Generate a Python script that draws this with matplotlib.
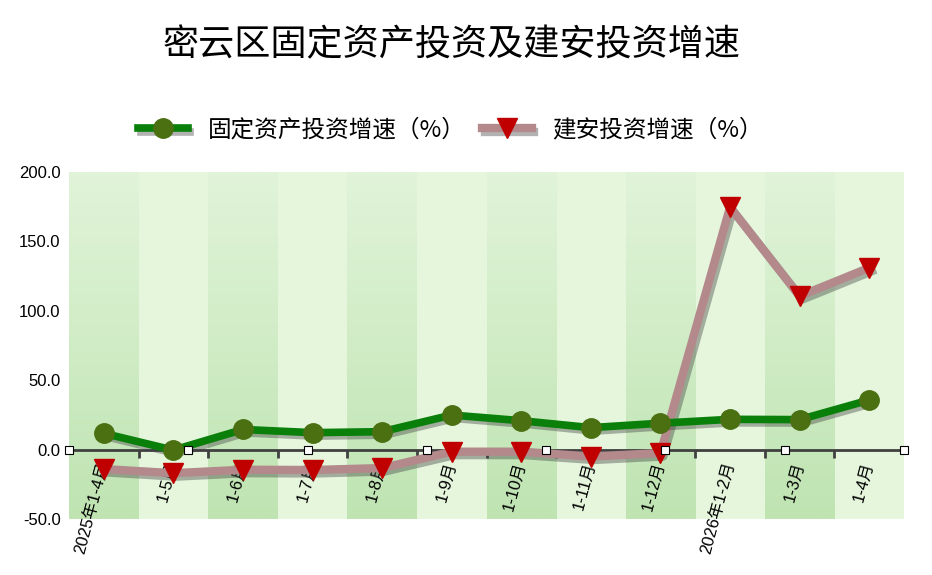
import numpy as np
import matplotlib
matplotlib.use("Agg")
import matplotlib.pyplot as plt
import matplotlib.patheffects as pe

plt.rcParams['font.family'] = ['Liberation Sans', 'Noto Sans CJK SC', 'DejaVu Sans']

# Data
categories = ['2025年1-4月', '1-5月', '1-6月', '1-7月', '1-8月', '1-9月', '1-10月',
              '1-11月', '1-12月', '2026年1-2月', '1-3月', '1-4月']
fixed_invest_growth = [11.7, -0.4, 14.5, 12.2, 12.9, 24.9, 20.8, 15.8, 19.0, 21.8, 21.6, 35.7]
construct_invest_growth = [-14.0, -17.0, -14.5, -14.7, -13.3, -1.5, -1.5, -5.0, -2.5, 174.7, 110.6, 131.0]
name_fixed = '固定资产投资增速（%）'
name_construct = '建安投资增速（%）'
title = '密云区固定资产投资及建安投资增速'
y_min, y_max = -50, 200
y_ticks = [-50, 0, 50, 100, 150, 200]

n = len(categories)
x = np.arange(n)

fig = plt.figure(figsize=(9.32, 5.75), dpi=100)
ax = fig.add_axes([0.074, 0.0974, 0.896, 0.6035])
ax.set_facecolor('#e5f6dd')
ax.set_axisbelow(True)

# Alternating background bands (dark ones with vertical gradient)
grad = np.linspace(0, 1, 100).reshape(-1, 1)
c_top = np.array([225, 244, 217]) / 255.0
c_bot = np.array([191, 228, 178]) / 255.0
grad_img = c_bot[None, None, :] * (1 - grad[:, :, None]) + c_top[None, None, :] * grad[:, :, None]
for i in range(0, n, 2):
    ax.imshow(grad_img, extent=(i - 0.5, i + 0.5, y_min, y_max), origin='lower',
              aspect='auto', zorder=0, interpolation='bilinear')
ax.set_xlim(-0.5, n - 0.5)
ax.set_ylim(y_min, y_max)

# Axes styling
for s in ['top', 'right', 'left']:
    ax.spines[s].set_visible(False)
ax.spines['bottom'].set_position(('data', 0))
ax.spines['bottom'].set_color('#404040')
ax.spines['bottom'].set_linewidth(2)
ax.set_yticks(y_ticks)
ax.set_yticklabels(['%.1f' % v for v in y_ticks], fontsize=12)
ax.tick_params(axis='y', length=0, pad=6)

ax.set_xticks(x)
ax.set_xticklabels(categories, rotation=75, ha='right', va='center',
                   rotation_mode='anchor', fontsize=12)
ax.tick_params(axis='x', which='major', length=0, pad=9)
ax.set_xticks(np.arange(0.5, n - 1, 1), minor=True)
ax.tick_params(axis='x', which='minor', length=6, width=2, color='#404040', direction='out')

# decorative markers on the zero line
ax.plot(np.linspace(-0.5, n - 0.5, 8), np.zeros(8), linestyle='none', marker='s',
        ms=5.5, mfc='white', mec='black', mew=0.8, zorder=6, clip_on=False)

shadow = [pe.SimpleLineShadow(offset=(2, -2.5), shadow_color='#404040', alpha=0.4), pe.Normal()]

l1, = ax.plot(x, fixed_invest_growth, color='#0a800a', lw=5.5, zorder=4, path_effects=shadow)
m1, = ax.plot(x, fixed_invest_growth, linestyle='none', marker='o', ms=14,
              mfc='#4a7012', mec='#4a7012', zorder=5)
l2, = ax.plot(x, construct_invest_growth, color='#b3898c', lw=6, zorder=3, path_effects=shadow)
m2, = ax.plot(x, construct_invest_growth, linestyle='none', marker='v', ms=14,
              mfc='#c00000', mec='#c00000', zorder=3.5)

fig.legend(handles=[(l1, m1), (l2, m2)], labels=[name_fixed, name_construct], ncol=2,
           frameon=False, loc='center', bbox_to_anchor=(0.483, 0.774), handlelength=2.1,
           columnspacing=0.7, handletextpad=0.85,
           prop={'family': ['Noto Sans CJK SC'], 'size': 17})

fig.text(0.485, 0.922, title, ha='center', va='center', fontsize=26,
         family=['Noto Sans CJK SC'], color='black')

fig.savefig('out.png', dpi=100)
plt.close()
